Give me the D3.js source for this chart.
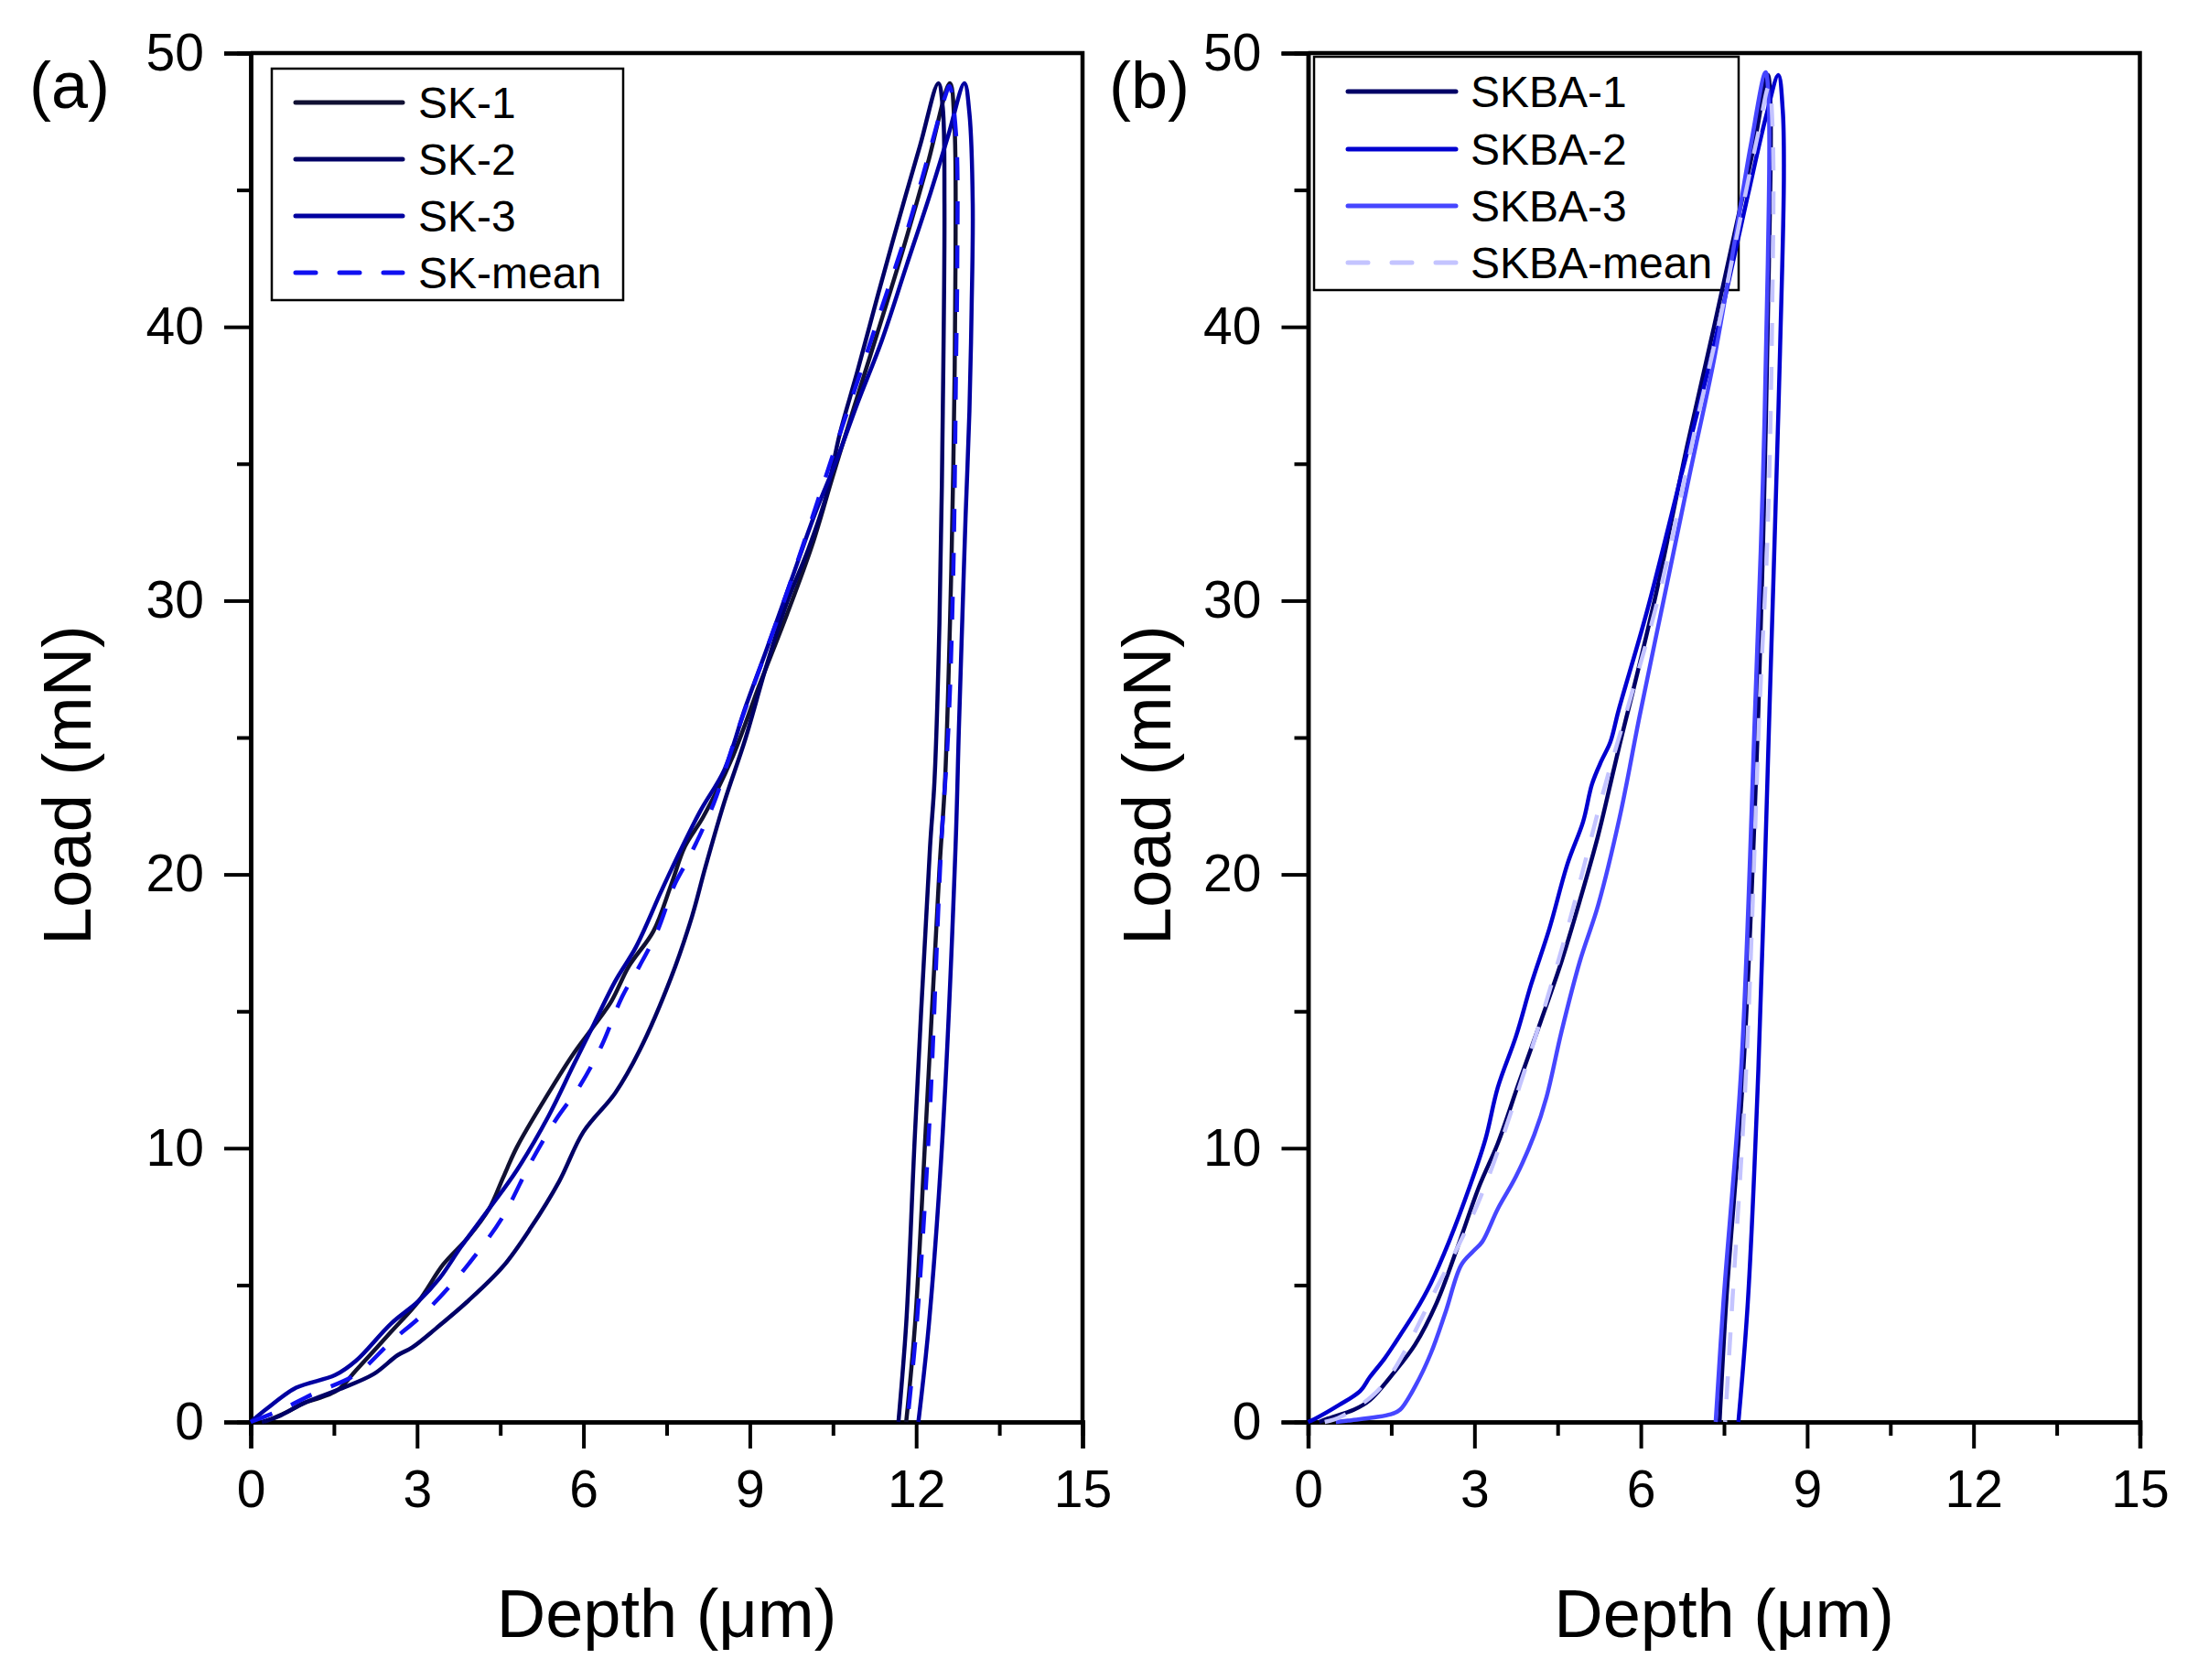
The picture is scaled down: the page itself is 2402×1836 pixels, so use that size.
<!DOCTYPE html>
<html>
<head>
<meta charset="utf-8">
<script src="https://cdn.jsdelivr.net/npm/d3@7"></script>
<style>
  body { margin: 0; background: #fff; }
  svg { display: block; font-family: "Liberation Sans", Arial, sans-serif; }
</style>
</head>
<body>
<script>
// depth (um), load (mN) pairs, loading then unloading
const sk1 = [[0.25,0],[0.63,0.34],[0.95,0.68],[1.26,0.89],[1.58,1.18],[1.9,1.89],[2.53,3.29],[3.03,4.42],[3.47,5.75],[3.92,6.74],[4.3,7.79],[4.55,8.92],[4.8,10.04],[5.37,12.01],[5.81,13.42],[6.19,14.47],[6.51,15.39],[6.82,16.65],[7.26,17.92],[7.58,19.61],[7.83,21.02],[8.16,22.1],[8.67,24.2],[9.17,26.9],[9.67,29.5],[10.12,32.0],[10.49,34.5],[10.87,37.0],[11.32,39.9],[11.76,42.8],[12.2,45.9],[12.61,48.9],[12.69,47.4],[12.71,42.6],[12.67,34.9],[12.61,29.2],[12.52,23.4],[12.42,20.2],[12.17,10.6],[11.98,3.58],[11.82,0]];
const sk2 = [[0.2,0],[0.5,0.2],[0.95,0.68],[1.58,1.18],[2.21,1.74],[2.65,2.44],[2.91,2.72],[3.35,3.43],[3.92,4.42],[4.55,5.68],[5.05,7.09],[5.56,8.78],[6.0,10.6],[6.57,12.01],[7.01,13.56],[7.58,16.23],[7.96,18.48],[8.19,20.2],[8.54,22.64],[8.92,24.95],[9.3,27.62],[9.67,29.93],[10.05,31.85],[10.37,33.77],[10.62,36.07],[10.94,38.37],[11.32,41.24],[11.69,43.94],[12.07,46.62],[12.4,48.9],[12.48,48.0],[12.51,44.5],[12.48,36.9],[12.42,29.2],[12.33,23.4],[12.25,21.0],[11.98,10.6],[11.82,3.58],[11.68,0]];
const sk3 = [[0,0],[0.3,0.5],[0.82,1.25],[1.52,1.71],[1.9,2.24],[2.53,3.59],[3.03,4.42],[3.41,5.26],[3.79,6.39],[4.3,7.79],[4.8,9.2],[5.37,11.17],[5.81,12.99],[6.19,14.54],[6.57,16.09],[6.95,17.36],[7.39,19.33],[7.59,20.2],[8.1,22.29],[8.54,23.82],[8.92,26.1],[9.3,28.2],[9.74,30.7],[10.18,33.2],[10.56,35.1],[10.94,37.2],[11.38,39.5],[11.82,42.2],[12.26,44.9],[12.58,47.0],[12.87,48.9],[12.96,47.8],[13.02,44.5],[13.0,40.7],[12.96,36.9],[12.89,33.0],[12.83,29.2],[12.77,25.3],[12.71,21.0],[12.48,10.6],[12.23,3.58],[12.04,0]];
const skMean = [[0,0],[0.5,0.4],[1.14,1.04],[1.9,1.74],[2.53,2.93],[3.1,3.92],[3.66,5.12],[4.11,6.24],[4.55,7.51],[5.05,9.48],[5.5,11.03],[5.94,12.29],[6.32,13.71],[6.7,15.54],[7.01,16.65],[7.33,17.92],[7.64,19.61],[7.9,20.6],[8.35,22.6],[8.79,25.3],[9.23,27.8],[9.67,30.3],[10.12,33.0],[10.56,35.7],[10.94,38.0],[11.38,40.7],[11.82,43.4],[12.2,46.1],[12.52,48.4],[12.6,48.8],[12.72,47.0],[12.74,42.0],[12.72,38.8],[12.67,31.1],[12.58,25.3],[12.45,21.0],[12.23,10.6],[12.01,3.58],[11.84,0]];

const skba1 = [[0.2,0],[0.34,0.11],[0.83,0.45],[1.11,0.79],[1.55,1.81],[1.93,2.83],[2.32,4.36],[2.7,6.41],[3.09,8.63],[3.42,10.17],[3.8,12.38],[4.19,14.6],[4.57,16.82],[4.9,19.04],[5.23,21.42],[5.51,23.81],[5.67,25.17],[5.84,26.54],[6.28,30.3],[6.83,35.6],[7.32,40.0],[7.71,43.6],[8.04,46.6],[8.29,49.2],[8.34,47.9],[8.31,42.3],[8.23,34.3],[8.12,26.0],[7.85,12.89],[7.54,4.38],[7.42,0]];
const skba2 = [[0,0],[0.12,0.11],[0.56,0.62],[0.94,1.13],[1.11,1.63],[1.38,2.32],[1.66,3.17],[1.93,4.02],[2.21,5.05],[2.54,6.58],[2.92,8.63],[3.2,10.34],[3.42,12.21],[3.75,14.09],[4.02,15.97],[4.35,18.01],[4.68,20.4],[4.96,21.93],[5.12,23.3],[5.29,24.15],[5.45,24.83],[5.6,26.0],[6.11,29.6],[6.77,34.9],[7.21,38.4],[7.6,41.8],[7.93,44.8],[8.26,47.7],[8.48,49.2],[8.56,47.9],[8.58,45.5],[8.51,39.1],[8.42,32.7],[8.32,26.0],[8.12,12.89],[7.93,4.38],[7.76,0]];
const skba3 = [[0.5,0],[0.72,0.05],[1.49,0.28],[1.66,0.45],[1.93,1.3],[2.21,2.49],[2.48,4.02],[2.76,5.73],[2.98,6.24],[3.14,6.58],[3.42,7.78],[3.75,8.97],[4.08,10.5],[4.3,11.87],[4.57,14.26],[4.9,16.82],[5.23,18.87],[5.62,22.1],[5.98,25.8],[6.44,30.3],[6.88,34.6],[7.32,38.8],[7.65,42.6],[7.98,46.6],[8.25,49.3],[8.31,47.9],[8.29,42.3],[8.2,34.3],[8.06,26.0],[7.81,12.89],[7.49,4.38],[7.35,0]];
const skbaMean = [[0.3,0],[0.6,0.2],[1.33,1.3],[2.32,4.9],[3.09,8.12],[3.86,12.55],[4.63,17.67],[5.34,23.13],[5.78,26.2],[6.34,30.3],[6.94,35.9],[7.43,40.3],[7.82,44.2],[8.12,47.1],[8.31,48.8],[8.38,47.0],[8.37,40.7],[8.29,32.7],[8.14,26.0],[7.9,12.89],[7.65,4.38],[7.52,0]];

const namesA = ['SK-1', 'SK-2', 'SK-3', 'SK-mean'];
const namesB = ['SKBA-1', 'SKBA-2', 'SKBA-3', 'SKBA-mean'];
const xTicks = [0, 3, 6, 9, 12, 15];
const yTicks = [0, 10, 20, 30, 40, 50];

const width = 2402;
const height = 1836;

const svg = d3.select('body').append('svg').
    attr('width', width).
    attr('height', height);

const panels = [
    {
        left: 274, tag: '(a)', tagX: 32, yLabelX: 99,
        names: namesA, data: [sk1, sk2, sk3, skMean],
        colors: ['#111133', '#000066', '#0000a0', '#1010f0'],
        legend: {x0: 297, y0: 75, x1: 681, y1: 328, lx0: 323, lx1: 440, tx: 457, ys: [112, 174, 236, 298]}
    },
    {
        left: 1429.5, tag: '(b)', tagX: 1212, yLabelX: 1279,
        names: namesB, data: [skba1, skba2, skba3, skbaMean],
        colors: ['#000066', '#0000d0', '#4646ff', '#c4c4ff'],
        legend: {x0: 1436, y0: 62, x1: 1900, y1: 317, lx0: 1473, lx1: 1591, tx: 1607, ys: [100, 163, 225, 287]}
    }
];

const plotW = 909;
const plotTop = 58;
const plotBottom = 1554;

const drawPanel = (p) => {
    const g = svg.append('g');

    const x = d3.scaleLinear().domain([0, 15]).range([p.left, p.left + plotW]);
    const y = d3.scaleLinear().domain([0, 50]).range([plotBottom, plotTop]);

    // minor ticks
    g.append('g').
        attr('transform', `translate(0, ${plotBottom})`).
        call(d3.axisBottom(x).tickValues(d3.range(1.5, 15, 3)).tickSize(15).tickFormat(''));
    g.append('g').
        attr('transform', `translate(${p.left}, 0)`).
        call(d3.axisLeft(y).tickValues(d3.range(5, 50, 10)).tickSize(15).tickFormat(''));

    g.append('g').
        attr('transform', `translate(0, ${plotBottom})`).
        call(d3.axisBottom(x).tickValues(xTicks).tickSize(29).tickPadding(24));
    g.append('g').
        attr('transform', `translate(${p.left}, 0)`).
        call(d3.axisLeft(y).tickValues(yTicks).tickSize(29).tickPadding(22));

    g.selectAll('.domain').attr('stroke', '#000').attr('stroke-width', 4.5);
    g.selectAll('.tick line').attr('stroke', '#000').attr('stroke-width', 4);
    g.selectAll('.tick text').
        attr('font-family', '"Liberation Sans", Arial, sans-serif').
        attr('font-size', 57).
        attr('fill', '#000');

    // top and right frame
    g.append('path').
        attr('d', `M${x(0)},${y(50)}H${x(15)}V${y(0)}`).
        attr('fill', 'none').
        attr('stroke', '#000').
        attr('stroke-width', 4.5);

    // legend
    const lg = p.legend;
    g.append('rect').
        attr('x', lg.x0).attr('y', lg.y0).
        attr('width', lg.x1 - lg.x0).attr('height', lg.y1 - lg.y0).
        attr('fill', 'none').attr('stroke', '#000').attr('stroke-width', 2.5);

    p.names.forEach((name, i) => {
        g.append('line').
            attr('x1', lg.lx0).attr('x2', lg.lx1).
            attr('y1', lg.ys[i]).attr('y2', lg.ys[i]).
            attr('stroke', p.colors[i]).
            attr('stroke-width', 5).
            attr('stroke-linecap', 'round').
            attr('stroke-dasharray', i === 3 ? '22,26' : null);
        g.append('text').
            attr('x', lg.tx).attr('y', lg.ys[i] + 17).
            attr('font-size', 48).
            text(name);
    });

    const line = d3.line().
        x(d => x(d[0])).
        y(d => y(d[1])).
        curve(d3.curveCatmullRom.alpha(0.5));

    p.data.forEach((series, i) => {
        g.append('path').
            datum(series).
            attr('d', line).
            attr('fill', 'none').
            attr('stroke', p.colors[i]).
            attr('stroke-width', 4.5).
            attr('stroke-linejoin', 'round').
            attr('stroke-dasharray', i === 3 ? '25,23' : null);
    });

    g.append('text').
        attr('x', p.tagX).attr('y', 118).
        attr('font-size', 72).
        text(p.tag);

    g.append('text').
        attr('transform', `translate(${p.yLabelX}, 858) rotate(-90)`).
        attr('text-anchor', 'middle').
        attr('font-size', 74).
        text('Load (mN)');

    g.append('text').
        attr('x', p.left + plotW / 2).attr('y', 1789).
        attr('text-anchor', 'middle').
        attr('font-size', 74).
        text('Depth (\u03bcm)');
};

panels.forEach(drawPanel);
</script>
</body>
</html>
